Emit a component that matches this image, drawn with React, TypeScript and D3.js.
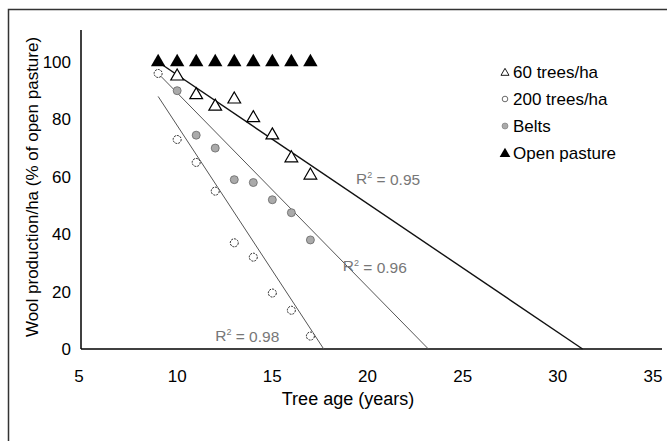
import React, { useRef, useEffect } from 'react';
import * as d3 from 'd3';

// tree age (years) for the measured points
const ages = [9, 10, 11, 12, 13, 14, 15, 16, 17];
const openPasture = [100, 100, 100, 100, 100, 100, 100, 100, 100];
const trees60 = [100, 95, 88.5, 84.5, 87, 80.5, 74.5, 66.5, 60.5];
const trees200 = [96, 73, 65, 55, 37, 32, 19.5, 13.5, 4.5];
const beltAges = [10, 11, 12, 13, 14, 15, 16, 17];
const belts = [90, 74.5, 70, 59, 58, 52, 47.5, 38];

// fitted lines: [x start, y start, x end, y end]
const fit60 = [9, 100, 31.3, 0];
const fitBelts = [9, 96, 23.2, 0];
const fit200 = [9, 88, 17.7, 0];
const r2Labels = [
  { text: '0.95', x: 19.4, y: 59.5 },
  { text: '0.96', x: 18.7, y: 29 },
  { text: '0.98', x: 12.0, y: 4.8 },
];

const xTicks = [5, 10, 15, 20, 25, 30, 35];
const yTicks = [0, 20, 40, 60, 80, 100];
const legendItems = ['60 trees/ha', '200 trees/ha', 'Belts', 'Open pasture'];

const FONT = '"Liberation Sans", Arial, sans-serif';

const App = () => {
  const svgRef = useRef(null);

  useEffect(() => {
    const width = 667;
    const height = 441;
    document.body.style.margin = '0';

    d3.select(svgRef.current).selectAll('*').remove();

    const svg = d3.select(svgRef.current)
      .attr('width', width)
      .attr('height', height)
      .style('display', 'block')
      .style('font-family', FONT);

    svg.append('rect').attr('width', width).attr('height', height).attr('fill', '#fff');

    // outer frame (only top and left edges are visible)
    svg.append('path')
      .attr('d', `M8.5,${height} L8.5,9.5 L${width},9.5`)
      .attr('fill', 'none')
      .attr('stroke', '#333')
      .attr('stroke-width', 1.5);

    const x = d3.scaleLinear().domain([5, 35]).range([82, 653]);
    const y = d3.scaleLinear().domain([0, 100]).range([349, 62]);

    // axes
    svg.append('line')
      .attr('x1', 81).attr('x2', 81)
      .attr('y1', 30).attr('y2', y(0))
      .attr('stroke', '#000').attr('stroke-width', 1.5);
    svg.append('line')
      .attr('x1', 81).attr('x2', 662)
      .attr('y1', y(0)).attr('y2', y(0))
      .attr('stroke', '#000').attr('stroke-width', 1.5);

    svg.selectAll('.xtick')
      .data(xTicks)
      .enter().append('text')
      .attr('class', 'xtick')
      .attr('x', d => x(d) - (d === 5 ? 3 : 0))
      .attr('y', 382)
      .attr('text-anchor', 'middle')
      .attr('font-size', 17)
      .text(d => d);

    svg.selectAll('.ytick')
      .data(yTicks)
      .enter().append('text')
      .attr('class', 'ytick')
      .attr('x', 71)
      .attr('y', d => y(d))
      .attr('dy', '0.35em')
      .attr('text-anchor', 'end')
      .attr('font-size', 17)
      .text(d => d);

    svg.append('text')
      .attr('x', 348)
      .attr('y', 405)
      .attr('text-anchor', 'middle')
      .attr('font-size', 18)
      .text('Tree age (years)');

    svg.append('text')
      .attr('transform', 'translate(38,187) rotate(-90)')
      .attr('text-anchor', 'middle')
      .attr('font-size', 17)
      .text('Wool production/ha (% of open pasture)');

    // regression lines
    const fits = [
      { f: fit60, color: '#111', w: 1.4 },
      { f: fitBelts, color: '#555', w: 1 },
      { f: fit200, color: '#555', w: 1 },
    ];
    svg.selectAll('.fit')
      .data(fits)
      .enter().append('line')
      .attr('class', 'fit')
      .attr('x1', d => x(d.f[0])).attr('y1', d => y(d.f[1]))
      .attr('x2', d => x(d.f[2])).attr('y2', d => y(d.f[3]))
      .attr('stroke', d => d.color)
      .attr('stroke-width', d => d.w);

    svg.selectAll('.r2')
      .data(r2Labels)
      .enter().append('text')
      .attr('class', 'r2')
      .attr('x', d => x(d.x))
      .attr('y', d => y(d.y))
      .attr('dy', '0.35em')
      .attr('font-size', 15.5)
      .attr('fill', '#777')
      .each(function (d) {
        const t = d3.select(this);
        t.append('tspan').text('R');
        t.append('tspan').attr('font-size', 9).attr('dy', '-0.6em').text('2');
        t.append('tspan').attr('dy', '0.45em').text(` = ${d.text}`);
      });

    const tri = d3.symbol().type(d3.symbolTriangle);

    // open pasture (filled triangles)
    svg.selectAll('.open')
      .data(ages.map((a, i) => [a, openPasture[i]]))
      .enter().append('path')
      .attr('class', 'open')
      .attr('transform', d => `translate(${x(d[0])},${y(d[1])})`)
      .attr('d', tri.size(90)())
      .attr('fill', '#000');

    // 60 trees/ha (open triangles)
    svg.selectAll('.t60')
      .data(ages.slice(1).map((a, i) => [a, trees60[i + 1]]))
      .enter().append('path')
      .attr('class', 't60')
      .attr('transform', d => `translate(${x(d[0])},${y(d[1])})`)
      .attr('d', tri.size(70)())
      .attr('fill', '#fff')
      .attr('stroke', '#000')
      .attr('stroke-width', 1.2);

    // 200 trees/ha (open circles)
    svg.selectAll('.t200')
      .data(ages.map((a, i) => [a, trees200[i]]))
      .enter().append('circle')
      .attr('class', 't200')
      .attr('cx', d => x(d[0]))
      .attr('cy', d => y(d[1]))
      .attr('r', 4)
      .attr('fill', '#fff')
      .attr('stroke', '#222')
      .attr('stroke-width', 1)
      .attr('stroke-dasharray', '2,1');

    // belts (grey circles)
    svg.selectAll('.belt')
      .data(beltAges.map((a, i) => [a, belts[i]]))
      .enter().append('circle')
      .attr('class', 'belt')
      .attr('cx', d => x(d[0]))
      .attr('cy', d => y(d[1]))
      .attr('r', 4)
      .attr('fill', '#aaa')
      .attr('stroke', '#666')
      .attr('stroke-width', 0.8);

    // legend
    const legend = svg.append('g').attr('transform', 'translate(503,72)');
    const rows = legend.selectAll('g')
      .data(legendItems)
      .enter().append('g')
      .attr('transform', (d, i) => `translate(0,${i * 27})`);

    rows.append('text')
      .attr('x', 10)
      .attr('dy', '0.35em')
      .attr('font-size', 17)
      .text(d => d);

    rows.filter((d, i) => i === 0).append('path')
      .attr('transform', 'translate(2,1)')
      .attr('d', tri.size(28)())
      .attr('fill', '#fff').attr('stroke', '#000').attr('stroke-width', 0.9);
    rows.filter((d, i) => i === 1).append('circle')
      .attr('cx', 2).attr('r', 2.8)
      .attr('fill', '#fff').attr('stroke', '#444').attr('stroke-width', 0.8);
    rows.filter((d, i) => i === 2).append('circle')
      .attr('cx', 2).attr('r', 3)
      .attr('fill', '#aaa').attr('stroke', '#777').attr('stroke-width', 0.6);
    rows.filter((d, i) => i === 3).append('path')
      .attr('transform', 'translate(2,1)')
      .attr('d', tri.size(50)())
      .attr('fill', '#000');
  }, []);

  return <svg ref={svgRef}></svg>;
};

export default App;
